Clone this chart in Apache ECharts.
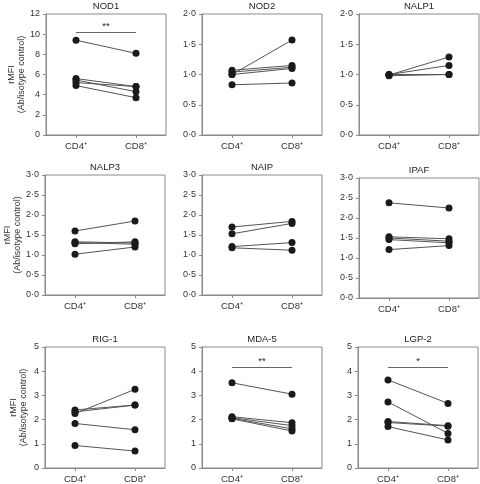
<!DOCTYPE html>
<html><head><meta charset="utf-8">
<script src="https://cdn.jsdelivr.net/npm/echarts@6/dist/echarts.min.js"></script>
<style>html,body{margin:0;padding:0;background:#fff}#c{width:480px;height:484px}</style>
</head><body><div id="c"></div>
<script>
const categories = ['CD4⁺', 'CD8⁺'];
const panelTitles = ['NOD1', 'NOD2', 'NALP1', 'NALP3', 'NAIP', 'IPAF', 'RIG-1', 'MDA-5', 'LGP-2'];
const yMax = [12, 2, 2, 3, 3, 3, 5, 5, 5];
const yStep = [2, 0.5, 0.5, 0.5, 0.5, 0.5, 1, 1, 1];
// each row: [CD4+, CD8+] for one donor
const nod1 = [[9.4, 8.1], [5.6, 4.8], [5.45, 4.3], [5.2, 4.8], [4.9, 3.7]];
const nod2 = [[1.0, 1.57], [1.07, 1.15], [1.04, 1.12], [1.0, 1.1], [0.83, 0.86]];
const nalp1 = [[0.99, 1.29], [1.0, 1.15], [0.98, 1.0], [1.0, 1.0]];
const nalp3 = [[1.6, 1.85], [1.33, 1.3], [1.28, 1.33], [1.31, 1.27], [1.02, 1.2]];
const naip = [[1.7, 1.84], [1.53, 1.79], [1.21, 1.31], [1.18, 1.12]];
const ipaf = [[2.38, 2.25], [1.53, 1.48], [1.5, 1.42], [1.46, 1.38], [1.21, 1.31]];
const rig1 = [[2.25, 3.25], [2.4, 2.6], [2.32, 2.6], [1.84, 1.58], [0.93, 0.7]];
const mda5 = [[3.52, 3.05], [2.12, 1.87], [2.08, 1.75], [2.05, 1.62], [2.03, 1.53]];
const lgp2 = [[3.64, 2.67], [2.73, 1.43], [1.92, 1.75], [1.88, 1.73], [1.71, 1.16]];
const panelData = [nod1, nod2, nalp1, nalp3, naip, ipaf, rig1, mda5, lgp2];
// significance bars
const sigPanels = [0, 7, 8];
const sigLevels = [10.2, 4.15, 4.15];
const sigLabels = ['**', '**', '*'];

const layout = [
  {l: 46, t: 14, w: 120, h: 121}, {l: 202, t: 14, w: 120, h: 121}, {l: 359, t: 14, w: 120, h: 121},
  {l: 45, t: 175, w: 120, h: 120}, {l: 202, t: 175, w: 120, h: 120}, {l: 359, t: 178, w: 120, h: 120},
  {l: 45, t: 347, w: 120, h: 121}, {l: 202, t: 347, w: 120, h: 121}, {l: 358, t: 347, w: 120, h: 121}
];
const FONT = 'Liberation Sans, Arial, sans-serif';
const frameColor = '#8a8a8a';

const grid = [], xAxis = [], yAxis = [], series = [], title = [];
layout.forEach((g, i) => {
  grid.push({left: g.l, top: g.t, width: g.w, height: g.h, show: true, borderColor: frameColor, borderWidth: 1, containLabel: false});
  title.push({text: panelTitles[i], left: g.l + g.w / 2, top: g.t - 13, textAlign: 'center', padding: 0,
    textStyle: {fontSize: 9.5, fontWeight: 'normal', color: '#222', fontFamily: FONT}});
  xAxis.push({type: 'category', gridIndex: i, data: categories,
    axisLine: {show: true, lineStyle: {color: frameColor}},
    axisTick: {show: true, alignWithLabel: true, length: 3, lineStyle: {color: frameColor}},
    axisLabel: {fontSize: 9.5, color: '#333', margin: 6, fontFamily: FONT}});
  const dec = yStep[i] < 1;
  yAxis.push({type: 'value', gridIndex: i, min: 0, max: yMax[i], interval: yStep[i],
    splitLine: {show: false},
    axisLine: {show: true, lineStyle: {color: frameColor}},
    axisTick: {show: true, length: 3, lineStyle: {color: frameColor}},
    axisLabel: {fontSize: 9, color: '#333', margin: 6, fontFamily: FONT,
      formatter: v => dec ? v.toFixed(1).replace('.', '·') : String(v)},
    name: (i % 3 === 0) ? 'rMFI\n(Ab/isotype control)' : '',
    nameLocation: 'middle', nameRotate: 90, nameGap: 16,
    nameTextStyle: {fontSize: 9, color: '#333', lineHeight: 10, fontFamily: FONT}});
  panelData[i].forEach((d, k) => {
    const s = {type: 'line', xAxisIndex: i, yAxisIndex: i, data: d, symbol: 'circle', symbolSize: 7,
      itemStyle: {color: '#1a1a1a'}, lineStyle: {color: '#555', width: 1}, animation: false, z: 3};
    const si = sigPanels.indexOf(i);
    if (k === 0 && si >= 0) {
      s.markLine = {symbol: 'none', silent: true, animation: false,
        lineStyle: {color: '#666', width: 1, type: 'solid'},
        label: {show: true, position: 'middle', formatter: sigLabels[si], fontSize: 9.5, color: '#222', distance: 1},
        data: [[{coord: [categories[0], sigLevels[si]]}, {coord: [categories[1], sigLevels[si]]}]]};
    }
    series.push(s);
  });
});

const chart = echarts.init(document.getElementById('c'), null, {renderer: 'canvas'});
chart.setOption({animation: false, backgroundColor: '#fff', title, grid, xAxis, yAxis, series});
</script></body></html>
